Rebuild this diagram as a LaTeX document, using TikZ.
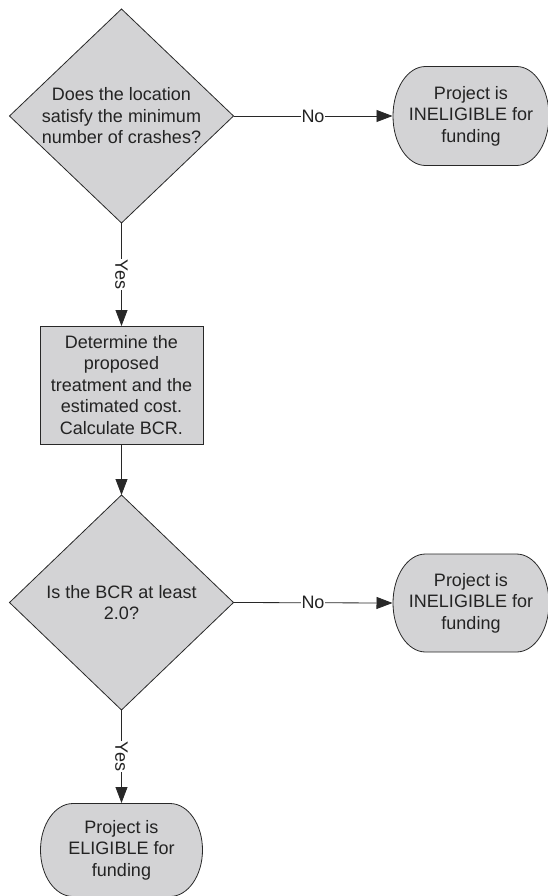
\documentclass[tikz,border=0pt]{standalone}
\usepackage{fontspec}
\setmainfont{Liberation Sans}
\usetikzlibrary{shapes.geometric,arrows.meta}
\definecolor{boxgray}{RGB}{211,211,213}
\definecolor{linecol}{RGB}{40,40,40}
\definecolor{txtcol}{RGB}{35,35,35}
\begin{document}
\begin{tikzpicture}[x=1pt,y=1pt,
  font=\fontsize{18}{21.5}\selectfont, text=txtcol,
  base/.style={draw=linecol, line width=0.8pt, fill=boxgray, align=center, inner sep=0pt, outer sep=0pt},
  decision/.style={base, diamond, aspect=1.05, minimum width=224pt, minimum height=214pt},
  process/.style={base, rectangle, minimum width=163pt, minimum height=118pt},
  term/.style n args={2}{minimum width=#1pt, minimum height=#2pt, align=center, inner sep=0pt, outer sep=0pt,
    path picture={
      \path[fill=boxgray, draw=linecol, line width=0.8pt]
        ([xshift=33pt,yshift=-0.5pt]path picture bounding box.north west)
        -- ([xshift=-33pt,yshift=-0.5pt]path picture bounding box.north east)
        arc[start angle=90, end angle=-90, x radius=32.5pt, y radius={(#2/2-0.5)*1pt}]
        -- ([xshift=33pt,yshift=0.5pt]path picture bounding box.south west)
        arc[start angle=270, end angle=90, x radius=32.5pt, y radius={(#2/2-0.5)*1pt}]
        -- cycle;}},
  conn/.style={draw=linecol, line width=0.8pt, -{Triangle[length=16pt,width=12pt]}},
  lbl/.style={fill=white, inner sep=0.5pt, text=txtcol}
]
\useasboundingbox (0,0) rectangle (547,-896);

\node[decision] (d1) at (121.5,-116) {Does the location\\satisfy the minimum\\number of crashes?};
\node[term={157}{100}] (t1) at (471,-116) {Project is\\INELIGIBLE for\\funding};
\node[process] (p1) at (121.5,-385) {Determine the\\proposed\\treatment and the\\estimated cost.\\Calculate BCR.};
\node[decision, minimum height=215pt] (d2) at (121.5,-602.5) {Is the BCR at least\\2.0?};
\node[term={157}{99}] (t2) at (471,-603) {Project is\\INELIGIBLE for\\funding};
\node[term={163}{94}] (t3) at (121.5,-850) {Project is\\ELIGIBLE for\\funding};

\draw[conn] (d1.east) -- node[lbl]{No} (t1.west);
\draw[conn] (d1.south) -- node[lbl, rotate=-90]{Yes} (p1.north);
\draw[conn] (p1.south) -- (d2.north);
\draw[conn] (d2.east) -- node[lbl]{No} (t2.west);
\draw[conn] (d2.south) -- node[lbl, rotate=-90]{Yes} (t3.north);
\end{tikzpicture}
\end{document}
